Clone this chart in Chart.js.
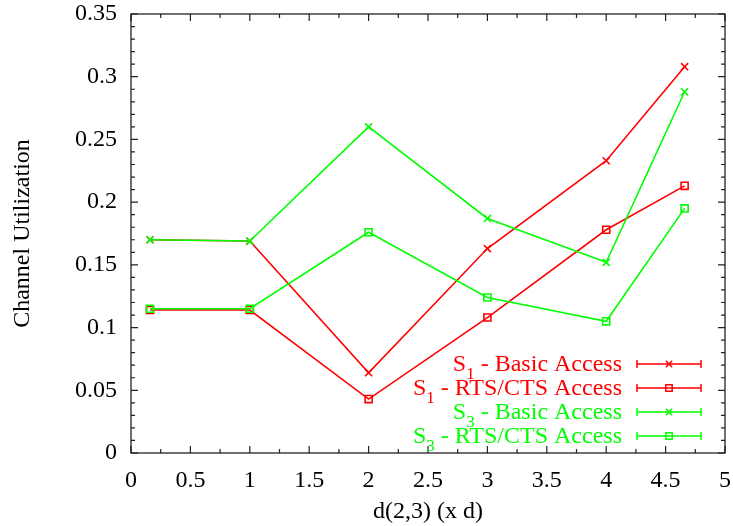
<!DOCTYPE html>
<html><head><meta charset="utf-8">
<script src="https://cdn.jsdelivr.net/npm/chart.js@4.4.1/dist/chart.umd.min.js"></script>
<style>html,body{margin:0;padding:0;background:#fff;}#wrap{width:733px;height:526px;}</style>
</head><body><div id="wrap"><canvas id="c" width="733" height="526"></canvas></div>
<script>
// ---- data ----
const xValues = [0.16, 1, 2, 3, 4, 4.66];
const s1Basic = [0.170, 0.169, 0.064, 0.163, 0.233, 0.308];
const s1Rts   = [0.114, 0.114, 0.043, 0.108, 0.178, 0.213];
const s3Basic = [0.170, 0.169, 0.260, 0.187, 0.152, 0.288];
const s3Rts   = [0.115, 0.115, 0.176, 0.124, 0.105, 0.195];
const seriesLabels = ['S_1 - Basic Access', 'S_1 - RTS/CTS Access', 'S_3 - Basic Access', 'S_3 - RTS/CTS Access'];
const xTickValues = [0, 0.5, 1, 1.5, 2, 2.5, 3, 3.5, 4, 4.5, 5];
const yTickValues = [0, 0.05, 0.1, 0.15, 0.2, 0.25, 0.3, 0.35];
const xTitle = 'd(2,3) (x d)';
const yTitle = 'Channel Utilization';

// ---- styles ----
const RED = '#ff0000', GREEN = '#00ff00';
const seriesValues = [s1Basic, s1Rts, s3Basic, s3Rts];
const seriesColors = [RED, RED, GREEN, GREEN];
const seriesMarkers = ['crossRot', 'rect', 'crossRot', 'rect'];
const FONT = "'Liberation Serif', 'Times New Roman', serif";
const font = {family: FONT, size: 24};

const datasets = seriesValues.map((vals, i) => ({
  label: seriesLabels[i],
  data: xValues.map((x, j) => ({x: x, y: vals[j]})),
  order: seriesValues.length - i,
  borderColor: seriesColors[i],
  backgroundColor: 'rgba(0,0,0,0)',
  borderWidth: 1.6,
  pointStyle: seriesMarkers[i],
  pointRadius: 5,
  pointBorderWidth: 1.6,
  pointBorderColor: seriesColors[i],
  pointBackgroundColor: 'rgba(0,0,0,0)',
  tension: 0,
  fill: false
}));

const frame = {
  id: 'frame',
  afterDraw(chart) {
    const ctx = chart.ctx;
    const a = chart.chartArea;
    const xs = chart.scales.x, ys = chart.scales.y;
    ctx.save();
    ctx.strokeStyle = '#222';
    ctx.lineWidth = 1.2;
    ctx.beginPath();
    for (let k = 0; k <= 20; k++) {
      const px = xs.getPixelForValue(k * 0.25);
      const len = (k % 2 === 0) ? 7 : 4;
      ctx.moveTo(px, a.bottom); ctx.lineTo(px, a.bottom - len);
      ctx.moveTo(px, a.top); ctx.lineTo(px, a.top + len);
    }
    for (let k = 0; k <= 35; k++) {
      const py = ys.getPixelForValue(k * 0.01);
      const len = (k % 5 === 0) ? 7 : 4;
      ctx.moveTo(a.left, py); ctx.lineTo(a.left + len, py);
      ctx.moveTo(a.right, py); ctx.lineTo(a.right - len, py);
    }
    ctx.stroke();
    ctx.strokeStyle = '#111';
    ctx.strokeRect(a.left, a.top, a.right - a.left, a.bottom - a.top);

    // legend
    const textRight = a.right - 103;
    const sampleL = a.right - 88, sampleR = a.right - 24, sampleC = (sampleL + sampleR) / 2;
    seriesLabels.forEach((lab, i) => {
      const rowY = a.bottom - 89 + i * 24;
      const col = seriesColors[i];
      const m = lab.match(/^([^_]*)_(\S)(.*)$/);
      const mainFont = "24px " + FONT, subFont = "17px " + FONT;
      ctx.fillStyle = col;
      ctx.textBaseline = 'alphabetic';
      ctx.textAlign = 'left';
      const parts = m ? [[m[1], mainFont, 0], [m[2], subFont, 8], [m[3], mainFont, 0]] : [[lab, mainFont, 0]];
      let total = 0;
      parts.forEach(p => { ctx.font = p[1]; total += ctx.measureText(p[0]).width; });
      let x = textRight - total;
      parts.forEach(p => { ctx.font = p[1]; ctx.fillText(p[0], x, rowY + 7 + p[2]); x += ctx.measureText(p[0]).width; });
      ctx.strokeStyle = col;
      ctx.lineWidth = 1.5;
      ctx.beginPath();
      ctx.moveTo(sampleL, rowY); ctx.lineTo(sampleR, rowY);
      ctx.moveTo(sampleL, rowY - 4); ctx.lineTo(sampleL, rowY + 4);
      ctx.moveTo(sampleR, rowY - 4); ctx.lineTo(sampleR, rowY + 4);
      ctx.stroke();
      ctx.fillStyle = 'rgba(0,0,0,0)';
      Chart.helpers.drawPoint(ctx, {pointStyle: seriesMarkers[i], radius: 4.5, borderWidth: 1.5}, sampleC, rowY);
    });
    ctx.restore();
  }
};

new Chart(document.getElementById('c'), {
  type: 'line',
  data: {datasets: datasets},
  plugins: [frame],
  options: {
    responsive: false,
    animation: false,
    devicePixelRatio: 1,
    layout: {padding: {top: 14, right: 8, left: 0, bottom: 0}},
    plugins: {legend: {display: false}, tooltip: {enabled: false}},
    scales: {
      x: {
        type: 'linear', min: 0, max: 5,
        afterBuildTicks: s => { s.ticks = xTickValues.map(v => ({value: v})); },
        ticks: {font: font, color: '#000', padding: 13, maxRotation: 0, autoSkip: false, callback: v => String(v)},
        grid: {display: false, drawTicks: false},
        border: {display: false},
        title: {display: true, text: xTitle, font: font, color: '#000', padding: {top: 0, bottom: 0}},
        afterFit: s => { s.height = 73; s.paddingLeft = 0; s.paddingRight = 0; }
      },
      y: {
        type: 'linear', min: 0, max: 0.35,
        afterBuildTicks: s => { s.ticks = yTickValues.map(v => ({value: v})); },
        ticks: {font: font, color: '#000', padding: 14, autoSkip: false, callback: v => String(+v.toFixed(2))},
        grid: {display: false, drawTicks: false},
        border: {display: false},
        title: {display: true, text: yTitle, font: font, color: '#000', padding: {top: 8, bottom: 0}},
        afterFit: s => { s.width = 131; s.paddingTop = 0; s.paddingBottom = 0; }
      }
    }
  }
});
</script></body></html>
